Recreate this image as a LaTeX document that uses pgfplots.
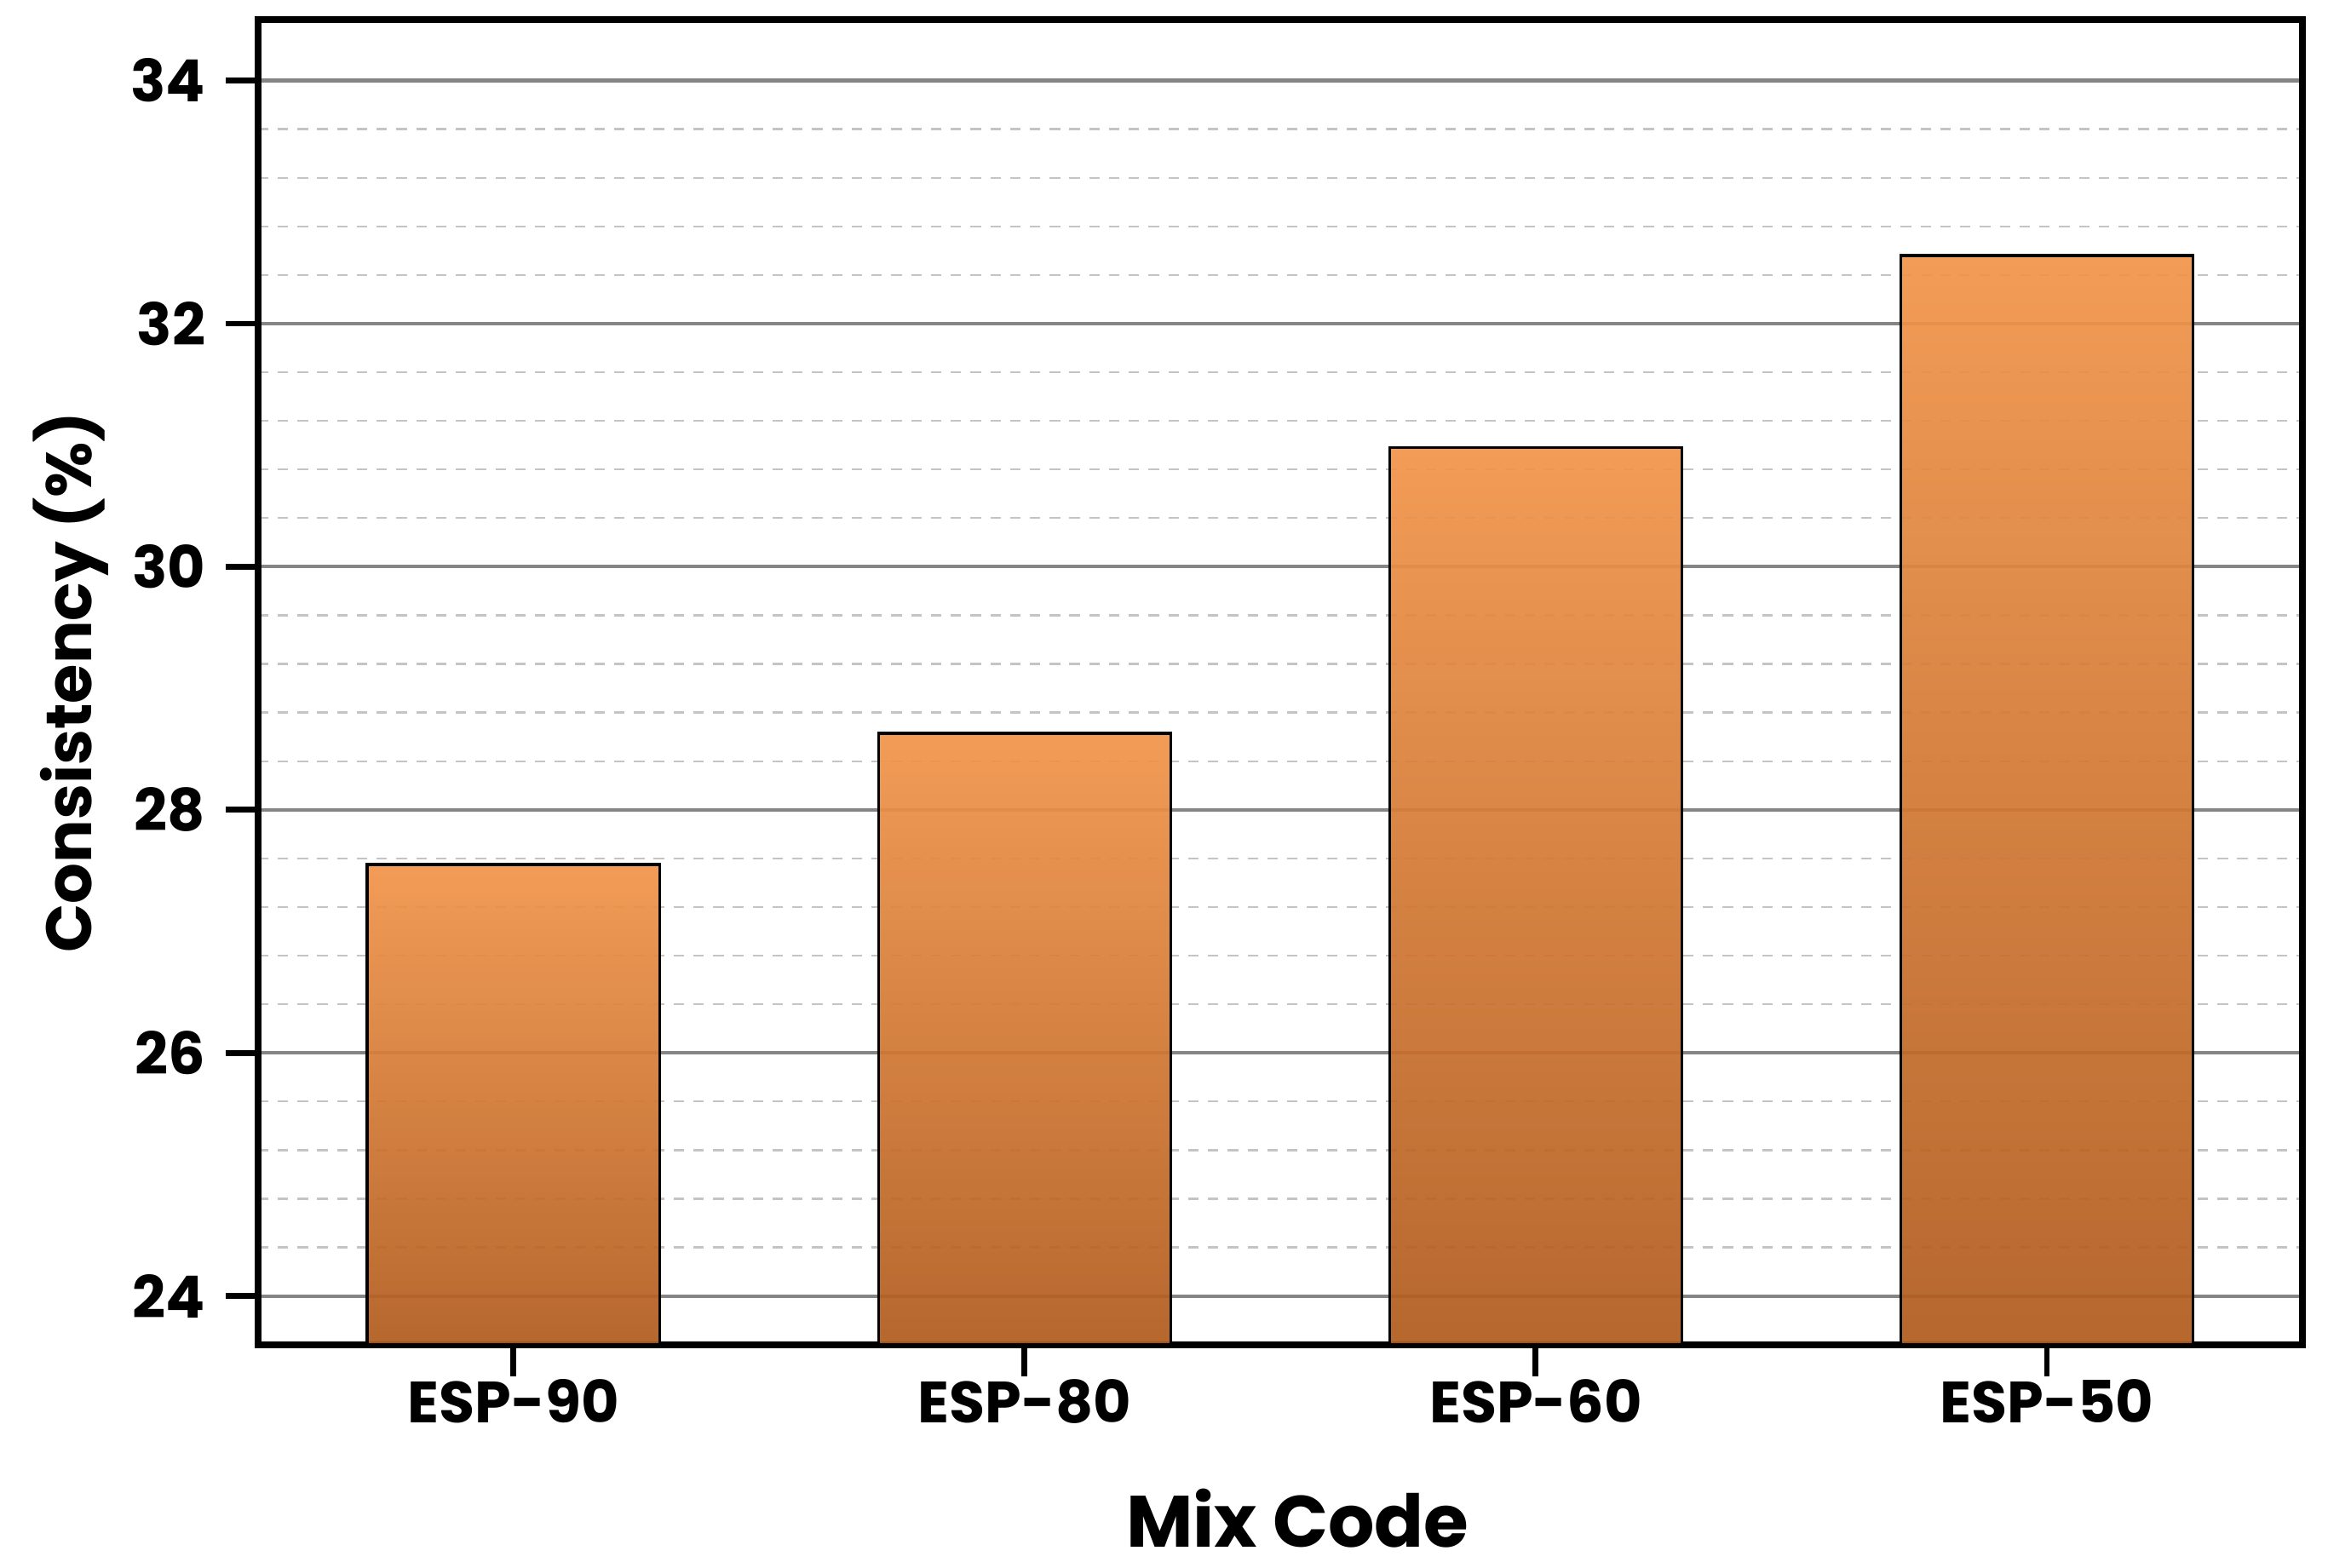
\documentclass[border=0pt]{standalone}
\usepackage{fontspec}
\setmainfont{Poppins}
\usepackage{pgfplots}
\usepackage{pgfplotstable}
\pgfplotsset{compat=1.18}
\definecolor{bartop}{HTML}{F1944A}
\definecolor{barmid}{HTML}{E08843}
\definecolor{barbot}{HTML}{B15C1E}
\definecolor{majgrid}{HTML}{858585}
\definecolor{mingrid}{HTML}{C4C4C4}
% Consistency (%) per mix; each column holds one bar, others sit at the axis floor 23.6
\pgfplotstableread{
x  base  e90    e80    e60    e50
0  23.6  27.55  23.6   23.6   23.6
1  23.6  23.6   28.63  23.6   23.6
2  23.6  23.6   23.6   30.98  23.6
3  23.6  23.6   23.6   23.6   32.56
}\datatable
\pgfplotsset{barstyle/.style={draw=black, line width=0.5pt, top color=bartop, middle color=barmid, bottom color=barbot, fill opacity=0.93}}
\begin{document}
\begin{tikzpicture}
\begin{axis}[
  scale only axis, width=351.2pt, height=227.6pt,
  xmin=-0.5, xmax=3.5, ymin=23.6, ymax=34.5,
  xtick={0,1,2,3}, xticklabels={ESP-90,ESP-80,ESP-60,ESP-50},
  ytick={24,26,28,30,32,34}, minor y tick num=4,
  ymajorgrids, yminorgrids,
  major grid style={majgrid, line width=0.6pt},
  minor grid style={mingrid, line width=0.35pt, dash pattern=on 1.8pt off 1.6pt},
  tick align=outside, major tick length=5.5pt, minor tick length=0pt,
  xtick pos=bottom, ytick pos=left,
  axis line style={line width=1.2pt},
  every tick/.style={black, line width=1pt},
  /pgf/number format/assume math mode=true,
  ticklabel style={font=\bfseries\fontsize{10}{12}\selectfont},
  xticklabel style={yshift=3pt},
  xlabel={Mix Code}, ylabel={Consistency (\%)},
  xlabel style={font=\bfseries\fontsize{12.5}{15}\selectfont, xshift=3pt, yshift=-4.3pt},
  ylabel style={font=\bfseries\fontsize{11}{13}\selectfont, yshift=-3pt},
  ybar stacked, bar width=0.572,
]
\addplot[draw=none, fill=none] table[x=x, y=base] {\datatable};
\addplot[barstyle] table[x=x, y expr=\thisrow{e90}-23.6] {\datatable};
\addplot[barstyle] table[x=x, y expr=\thisrow{e80}-23.6] {\datatable};
\addplot[barstyle] table[x=x, y expr=\thisrow{e60}-23.6] {\datatable};
\addplot[barstyle] table[x=x, y expr=\thisrow{e50}-23.6] {\datatable};
\end{axis}
\pgfresetboundingbox
\path[use as bounding box] ([shift={(-44.3pt,-38.3pt)}]current axis.south west) rectangle ([shift={(4.4pt,3.4pt)}]current axis.north east);
\end{tikzpicture}
\end{document}
